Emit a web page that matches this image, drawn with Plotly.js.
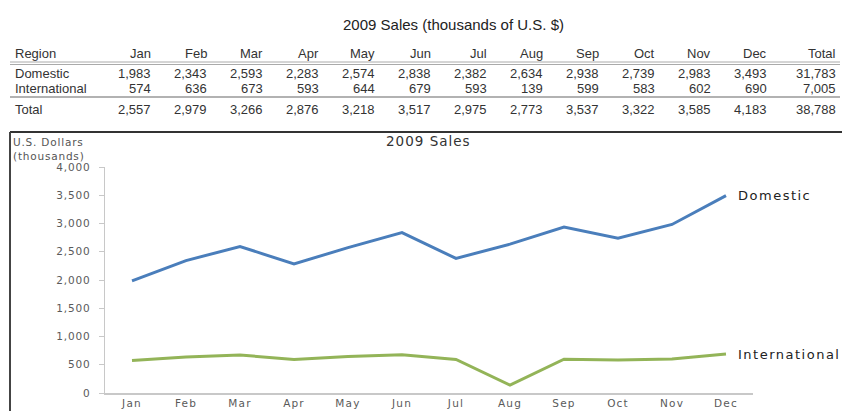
<!DOCTYPE html>
<html>
<head>
<meta charset="utf-8">
<script src="https://cdn.plot.ly/plotly-3.0.1.min.js"></script>
<style>
  html, body { margin: 0; padding: 0; background: #fff; }
  #chart { width: 842px; height: 411px; }
</style>
</head>
<body>
<div id="chart"></div>
<script>
// ---- Data ----
const months = ["Jan","Feb","Mar","Apr","May","Jun","Jul","Aug","Sep","Oct","Nov","Dec"];
const domestic = [1983, 2343, 2593, 2283, 2574, 2838, 2382, 2634, 2938, 2739, 2983, 3493];
const international = [574, 636, 673, 593, 644, 679, 593, 139, 599, 583, 602, 690];
const totals = [2557, 2979, 3266, 2876, 3218, 3517, 2975, 2773, 3537, 3322, 3585, 4183];
const rowNames = ["Domestic", "International", "Total"];
const rowTotals = [31783, 7005, 38788];
const yTicks = [0, 500, 1000, 1500, 2000, 2500, 3000, 3500, 4000];
const tableTitle = "2009 Sales (thousands of U.S. $)";
const chartTitle = "2009 Sales";
const yTitleLines = ["U.S. Dollars", "(thousands)"];

// ---- Geometry (pixel layout helpers) ----
const W = 842, H = 411;
const plotL = 105, plotR = 753, plotT = 167, plotB = 393;
const px2x = p => (p - plotL) / (plotR - plotL);
const px2y = p => (plotB - p) / (plotB - plotT);

const fmt = v => v.toLocaleString('en-US');
const spaced = (t, s) => '<span style="letter-spacing:' + s + 'px">' + t + '</span>';
const tableFont = {family: 'Liberation Sans, Arial, sans-serif', size: 13, color: '#333'};
const chartFont = {family: 'DejaVu Sans, Verdana, sans-serif', size: 10.5, color: '#5a5a5a'};

const annotations = [];
const shapes = [];

// table title
annotations.push({xref:'paper', yref:'paper', x: px2x(453), y: px2y(25), text: tableTitle,
  showarrow:false, xanchor:'center', yanchor:'middle', font:{family:'Liberation Sans, Arial, sans-serif', size:15, color:'#222'}});

// table columns
const colRight = months.map((m, i) => 153 + i * 56);
const totalRight = 838;
const rowY = [74, 88, 110];
const headerY = 53;

annotations.push({xref:'paper', yref:'paper', x: px2x(13), y: px2y(headerY), text:'Region',
  showarrow:false, xanchor:'left', yanchor:'middle', font: tableFont});
months.forEach((m, i) => {
  annotations.push({xref:'paper', yref:'paper', x: px2x(colRight[i]), y: px2y(headerY), text: m,
    showarrow:false, xanchor:'right', yanchor:'middle', font: tableFont});
});
annotations.push({xref:'paper', yref:'paper', x: px2x(totalRight), y: px2y(headerY), text:'Total',
  showarrow:false, xanchor:'right', yanchor:'middle', font: tableFont});

const rows = [domestic, international, totals];
rows.forEach((vals, r) => {
  annotations.push({xref:'paper', yref:'paper', x: px2x(13), y: px2y(rowY[r]), text: rowNames[r],
    showarrow:false, xanchor:'left', yanchor:'middle', font: tableFont});
  vals.forEach((v, i) => {
    annotations.push({xref:'paper', yref:'paper', x: px2x(colRight[i]), y: px2y(rowY[r]), text: fmt(v),
      showarrow:false, xanchor:'right', yanchor:'middle', font: tableFont});
  });
  annotations.push({xref:'paper', yref:'paper', x: px2x(totalRight), y: px2y(rowY[r]), text: fmt(rowTotals[r]),
    showarrow:false, xanchor:'right', yanchor:'middle', font: tableFont});
});

// table rules
shapes.push({type:'line', xref:'paper', yref:'paper', x0: px2x(10), x1: px2x(840), y0: px2y(62), y1: px2y(62), line:{color:'#aaa', width:1}});
shapes.push({type:'line', xref:'paper', yref:'paper', x0: px2x(10), x1: px2x(840), y0: px2y(64.5), y1: px2y(64.5), line:{color:'#aaa', width:1}});
shapes.push({type:'line', xref:'paper', yref:'paper', x0: px2x(10), x1: px2x(840), y0: px2y(97), y1: px2y(97), line:{color:'#999', width:1.5}});
// chart frame
shapes.push({type:'line', xref:'paper', yref:'paper', x0: px2x(10), x1: px2x(845), y0: px2y(132), y1: px2y(132), line:{color:'#333', width:2}});
shapes.push({type:'line', xref:'paper', yref:'paper', x0: px2x(10), x1: px2x(10), y0: px2y(132), y1: px2y(415), line:{color:'#444', width:2}});

// chart title & y title
annotations.push({xref:'paper', yref:'paper', x: px2x(428), y: px2y(141), text: spaced(chartTitle, 1),
  showarrow:false, xanchor:'center', yanchor:'middle', font:{family:'DejaVu Sans, Verdana, sans-serif', size:13.5, color:'#333'}});
annotations.push({xref:'paper', yref:'paper', x: px2x(11), y: px2y(134), text: yTitleLines.map(t => spaced(t, 0.8)).join('<br>'), align:'left',
  showarrow:false, xanchor:'left', yanchor:'top', font:{family:'DejaVu Sans, Verdana, sans-serif', size:10.5, color:'#555'}});

// series labels at last point
const seriesLabelFont = {family:'DejaVu Sans, Verdana, sans-serif', size:13, color:'#222'};
annotations.push({xref:'x', yref:'y', x: months.length - 1, y: domestic[domestic.length-1], xshift: 10, text: spaced('Domestic', 1.5),
  showarrow:false, xanchor:'left', yanchor:'middle', font: seriesLabelFont});
annotations.push({xref:'x', yref:'y', x: months.length - 1, y: international[international.length-1], xshift: 10, text: spaced('International', 1.5),
  showarrow:false, xanchor:'left', yanchor:'middle', font: seriesLabelFont});

const traces = [
  {x: months.map((m,i)=>i), y: domestic, type:'scatter', mode:'lines', name:'Domestic',
   line:{color:'#4a7ebb', width:3}},
  {x: months.map((m,i)=>i), y: international, type:'scatter', mode:'lines', name:'International',
   line:{color:'#93b458', width:3}}
];

const layout = {
  width: W, height: H,
  margin: {l: plotL, r: W - plotR, t: plotT, b: H - plotB, pad: 0},
  paper_bgcolor: '#fff', plot_bgcolor: '#fff',
  showlegend: false,
  xaxis: {
    range: [-0.5, months.length - 0.5], tickvals: months.map((m,i)=>i), ticktext: months.map(m => spaced(m, 1.2)),
    showgrid: false, zeroline: false, showline: true, linecolor: '#c8c8c8', linewidth: 1.5,
    ticks: '', tickfont: chartFont, fixedrange: true
  },
  yaxis: {
    range: [0, 4000], tickvals: yTicks, ticktext: yTicks.map(v => spaced(fmt(v), 0.8)),
    showgrid: false, zeroline: false, showline: true, linecolor: '#c8c8c8', linewidth: 1.5,
    ticks: 'outside', ticklen: 5, tickcolor: '#c8c8c8', tickfont: chartFont, ticklabelstandoff: 6, fixedrange: true
  },
  annotations: annotations,
  shapes: shapes
};

Plotly.newPlot('chart', traces, layout, {displayModeBar: false, staticPlot: true});
</script>
</body>
</html>
